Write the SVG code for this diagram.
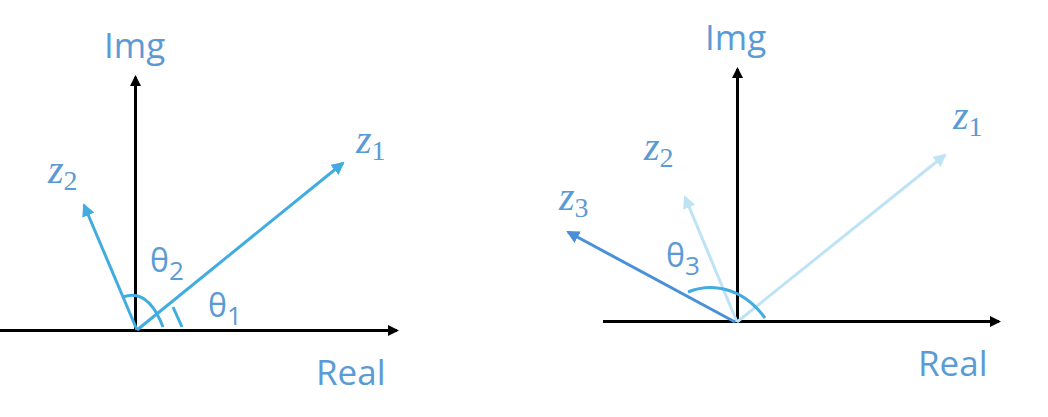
<svg xmlns="http://www.w3.org/2000/svg" width="1048" height="417" viewBox="0 0 1048 417">
<style>
.ax{stroke:#000;stroke-width:3;fill:none}
.lbl{font-family:"Open Sans","Noto Sans",sans-serif;fill:#5B9BD5;font-size:35px}
.zl{font-family:"Liberation Serif","DejaVu Serif",serif;font-style:italic;fill:#5B9BD5;font-size:40px}
.sub{font-family:"Liberation Serif","DejaVu Serif",serif;font-style:normal;font-size:28px}
.th{font-family:"Open Sans","Noto Sans",sans-serif;fill:#5B9BD5;font-size:32px}
.ths{font-size:26px}
.v{stroke:#41ACE0;stroke-width:3;fill:none}
.vl{stroke:#BEE3F5;stroke-width:3;fill:none}
.vd{stroke:#4A90D9;stroke-width:3;fill:none}
.arc{stroke:#41ACE0;stroke-width:3;fill:none}
</style>
<defs>
<marker id="ak" markerWidth="11" markerHeight="11" refX="9" refY="5.5" orient="auto" markerUnits="userSpaceOnUse" viewBox="0 0 11 11"><path d="M0,0 L11,5.5 L0,11 z" fill="#000"/></marker>
<marker id="ab" markerWidth="13" markerHeight="13" refX="11" refY="6.5" orient="auto" markerUnits="userSpaceOnUse" viewBox="0 0 13 13"><path d="M0,0 L13,6.5 L0,13 z" fill="#41ACE0"/></marker>
<marker id="al" markerWidth="13" markerHeight="13" refX="11" refY="6.5" orient="auto" markerUnits="userSpaceOnUse" viewBox="0 0 13 13"><path d="M0,0 L13,6.5 L0,13 z" fill="#BEE3F5"/></marker>
<marker id="ad" markerWidth="13" markerHeight="13" refX="11" refY="6.5" orient="auto" markerUnits="userSpaceOnUse" viewBox="0 0 13 13"><path d="M0,0 L13,6.5 L0,13 z" fill="#4A90D9"/></marker>
</defs>
<g id="connectors">
<line class="ax" x1="0" y1="330.5" x2="397" y2="330.5" marker-end="url(#ak)"/>
<line class="ax" x1="135.5" y1="330.5" x2="135.5" y2="77" marker-end="url(#ak)"/>
<line class="v" x1="137" y1="330" x2="343" y2="163" marker-end="url(#ab)"/>
<line class="v" x1="137" y1="330" x2="84" y2="205" marker-end="url(#ab)"/>
<path class="arc" d="M123,297 C134,293 150,293 163,327"/>
<path class="arc" d="M173,307 L182,327"/>
<line class="ax" x1="603" y1="321.5" x2="999" y2="321.5" marker-end="url(#ak)"/>
<line class="ax" x1="737.5" y1="321.5" x2="737.5" y2="69" marker-end="url(#ak)"/>
<line class="vl" x1="737" y1="322" x2="945" y2="155" marker-end="url(#al)"/>
<line class="vl" x1="737" y1="322" x2="685" y2="197" marker-end="url(#al)"/>
<line class="vd" x1="735" y1="322" x2="568" y2="232" marker-end="url(#ad)"/>
<path class="arc" d="M688,292 C708,284 740,284 765,318"/>
</g>
<g id="left-labels">
<text class="lbl" x="104" y="58">Img</text>
<text class="lbl" x="316" y="385">Real</text>
<text class="zl" x="356" y="153">z<tspan class="sub" dy="7">1</tspan></text>
<text class="zl" x="48" y="183">z<tspan class="sub" dy="7">2</tspan></text>
<text class="th" x="150" y="272">θ<tspan class="ths" dy="8">2</tspan></text>
<text class="th" x="208" y="317">θ<tspan class="ths" dy="8">1</tspan></text>
</g>
<g id="right-labels">
<text class="lbl" x="705" y="50">Img</text>
<text class="lbl" x="918" y="376">Real</text>
<text class="zl" x="953" y="129">z<tspan class="sub" dy="7">1</tspan></text>
<text class="zl" x="644" y="160">z<tspan class="sub" dy="7">2</tspan></text>
<text class="zl" x="559" y="210">z<tspan class="sub" dy="7">3</tspan></text>
<text class="th" x="666" y="267">θ<tspan class="ths" dy="8">3</tspan></text>
</g>
</svg>
